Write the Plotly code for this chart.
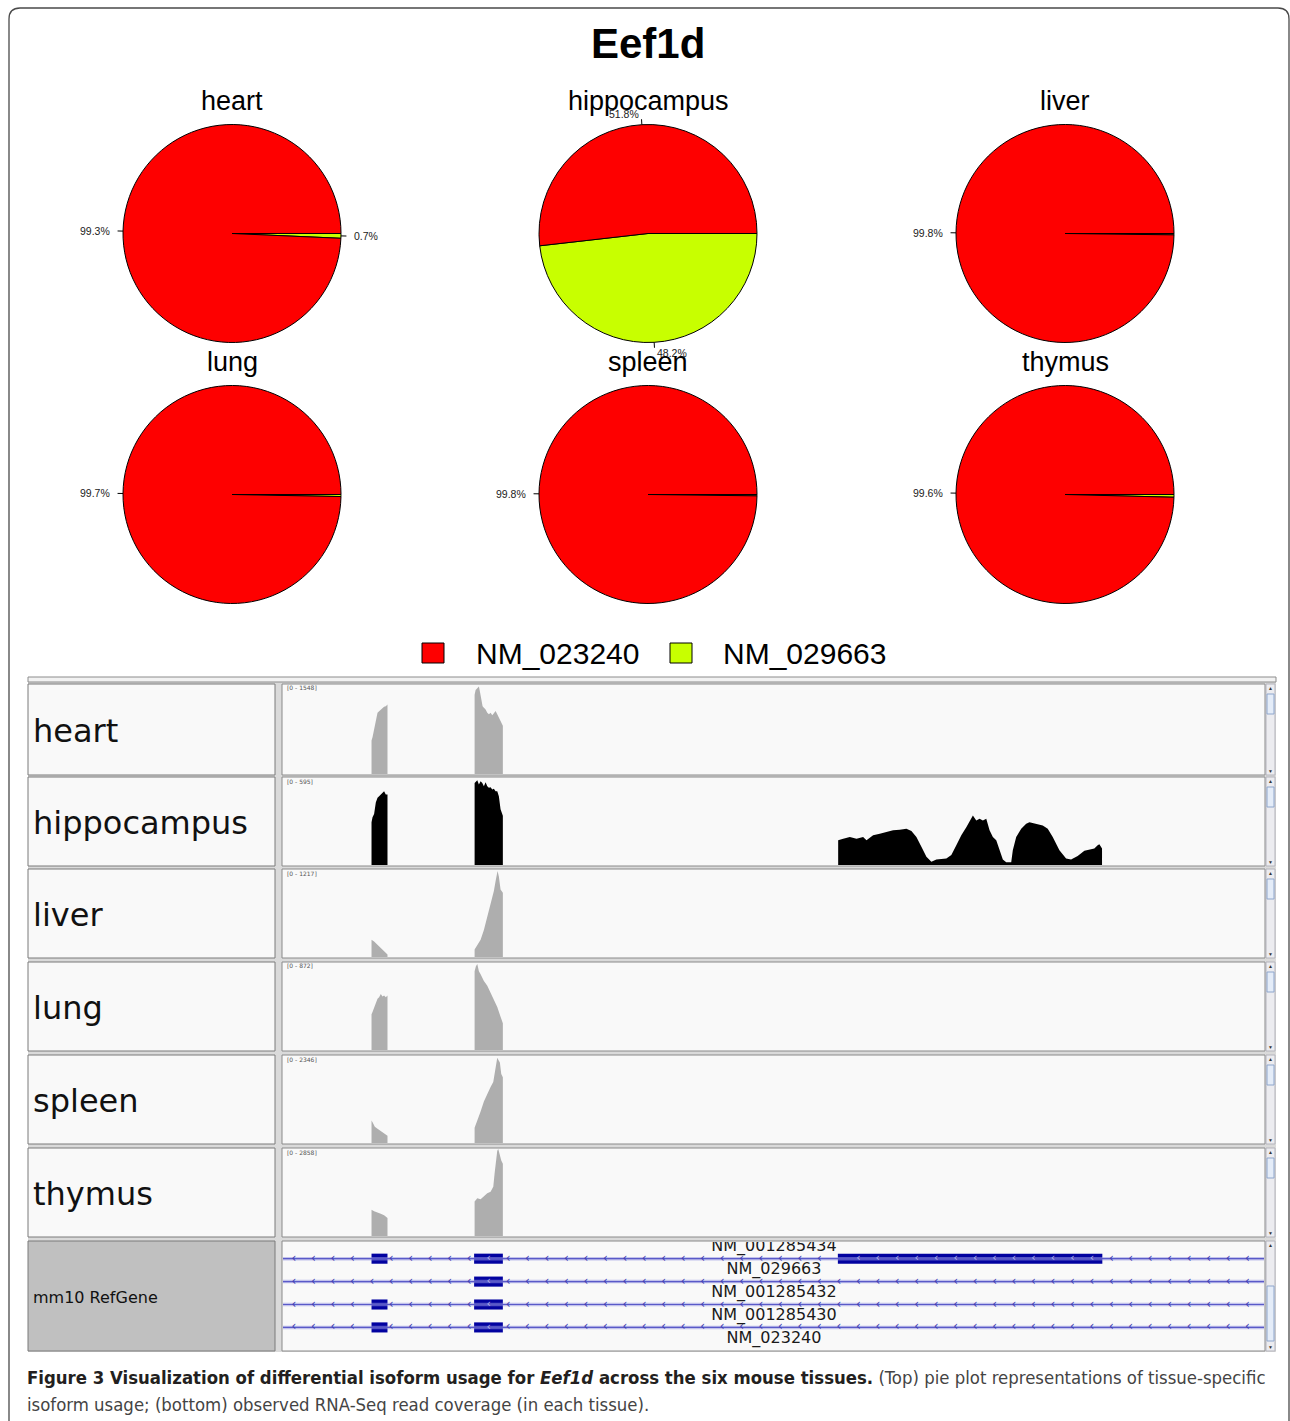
import numpy as np
import plotly.graph_objects as go

W, H = 1290, 1421


def fx(px):
    return px / W


def fy(py):
    return 1 - py / H


# ---------------------------------------------------------------- data
gene = "Eef1d"
tissues = ["heart", "hippocampus", "liver", "lung", "spleen", "thymus"]
isoforms = ["NM_023240", "NM_029663"]
iso_colors = ["#fe0000", "#c8ff00"]

usage_heart = [99.3, 0.7]
usage_hippocampus = [51.8, 48.2]
usage_liver = [99.8, 0.2]
usage_lung = [99.7, 0.3]
usage_spleen = [99.8, 0.2]
usage_thymus = [99.6, 0.4]
label_min_pct = 0.5

# coverage tracks (relative genomic position, read depth)
cov_max = [1548, 595, 1217, 872, 2346, 2858]

heart_pos = [88.7, 89.7, 91.3, 92.0, 93.0, 94.7, 96.3, 98.0, 99.7, 101.3, 103.0, 104.0, 104.7,
             192.0, 193.0, 194.7, 196.3, 197.3, 198.7, 200.0, 201.3, 203.0, 204.7, 206.3, 208.0,
             209.7, 211.3, 213.0, 214.7, 216.3, 218.0, 220.3]
heart_cov = [584, 640, 780, 890, 953, 1066, 1090, 1123, 1140, 1168, 1180, 1208, 1208,
             1378, 1463, 1491, 1520, 1435, 1293, 1180, 1151, 1123, 1066, 1038, 1066,
             1021, 1055, 1094, 1038, 981, 896, 839]

hippocampus_pos = [88.7, 89.7, 91.3, 93.0, 94.7, 96.3, 98.0, 99.7, 101.3, 103.0, 104.7,
                   192.0, 193.0, 194.7, 196.3, 198.0, 199.7, 201.3, 203.0, 204.7, 206.3, 208.0,
                   209.7, 211.3, 213.0, 214.7, 216.3, 218.0, 220.3,
                   556.3, 561.3, 568.0, 574.7, 581.3, 584.7, 591.3, 598.0, 604.7, 611.3, 618.0,
                   624.7, 629.7, 634.7, 639.7, 644.7, 649.7, 654.7, 664.7, 669.7, 674.7, 679.7,
                   684.7, 688.7, 691.3, 694.7, 698.0, 701.3, 704.7, 708.0, 711.3, 714.7, 718.0,
                   721.3, 724.7, 729.7, 731.3, 734.7, 739.7, 744.7, 748.0, 754.7, 761.3, 766.3,
                   771.3, 778.0, 784.7, 789.7, 796.3, 803.0, 808.0, 813.0, 816.3, 818.0, 820.7]
hippocampus_cov = [292, 326, 348, 427, 460, 471, 483, 494, 505, 483, 483,
                   561, 566, 579, 550, 573, 561, 539, 566, 539, 528, 532,
                   516, 521, 505, 505, 471, 382, 337,
                   169, 180, 192, 180, 192, 169, 203, 214, 225, 237, 241,
                   248, 232, 192, 124, 56, 23, 38, 45, 68, 135, 203,
                   259, 304, 338, 304, 316, 304, 316, 237, 192, 169, 101,
                   38, 18, 18, 101, 192, 248, 282, 293, 282, 270, 248,
                   192, 101, 45, 38, 61, 97, 106, 113, 135, 142, 113]

liver_pos = [88.7, 91.3, 94.7, 98.0, 101.3, 104.7,
             192.0, 194.7, 198.0, 201.3, 204.7, 207.3, 209.7, 211.3, 213.0, 214.0, 215.0,
             216.3, 218.0, 220.3]
liver_cov = [241, 218, 173, 127, 82, 36,
             104, 173, 241, 377, 559, 695, 831, 922, 1058, 1172, 1203,
             1126, 945, 899]

lung_pos = [88.7, 89.7, 91.3, 93.0, 94.7, 96.3, 98.0, 99.7, 101.3, 103.0, 104.7,
            192.0, 193.3, 194.7, 196.3, 198.0, 201.3, 204.7, 208.0, 211.3, 214.7, 218.0, 220.3]
lung_cov = [359, 382, 431, 480, 513, 529, 562, 536, 545, 529, 545,
            790, 839, 862, 790, 758, 692, 643, 578, 513, 431, 333, 268]

spleen_pos = [88.7, 90.0, 92.0, 94.7, 98.0, 101.3, 104.7,
              192.0, 194.7, 198.0, 201.3, 204.7, 208.0, 210.7, 212.0, 213.3, 214.7, 216.0,
              217.3, 218.7, 220.3]
spleen_cov = [606, 545, 439, 387, 325, 264, 193,
              413, 589, 852, 1116, 1336, 1511, 1643, 1907, 2126, 2302, 2232,
              2170, 1863, 1775]

thymus_pos = [88.7, 91.3, 94.7, 98.0, 101.3, 104.7,
              192.0, 194.7, 198.0, 201.3, 204.7, 208.0, 210.7, 212.0, 213.3, 214.7, 215.7,
              217.0, 218.7, 220.3]
thymus_cov = [863, 809, 777, 733, 679, 593,
              1132, 1240, 1208, 1294, 1402, 1456, 1618, 2049, 2481, 2804, 2858,
              2642, 2481, 2373]

track_colors = ["#aeaeae", "#000000", "#aeaeae", "#aeaeae", "#aeaeae", "#aeaeae"]

# RefGene annotation
region_start, region_end = 0, 983
transcript_labels = ["NM_001285434", "NM_029663", "NM_001285432", "NM_001285430", "NM_023240"]
transcript_label_rows = [-0.5, 0.5, 1.5, 2.5, 3.5]
transcript_rows = [0, 1, 2, 3]
exon_row = [0, 0, 0, 1, 2, 2, 3, 3]
exon_start = [88.7, 191.5, 556.0, 191.5, 88.7, 191.5, 88.7, 191.5]
exon_end = [104.7, 220.3, 821.0, 220.3, 104.7, 220.3, 104.7, 220.3]

caption_bold = "Figure 3 Visualization of differential isoform usage for "
caption_bold2 = " across the six mouse tissues."
caption_rest1 = " (Top) pie plot representations of tissue-specific"
caption_rest2 = "isoform usage; (bottom) observed RNA-Seq read coverage (in each tissue)."

usage = [usage_heart, usage_hippocampus, usage_liver, usage_lung, usage_spleen, usage_thymus]
cov_pos = [heart_pos, hippocampus_pos, liver_pos, lung_pos, spleen_pos, thymus_pos]
cov_val = [heart_cov, hippocampus_cov, liver_cov, lung_cov, spleen_cov, thymus_cov]

# ---------------------------------------------------------------- layout geometry (px)
pie_cx = [232, 648, 1065, 232, 648, 1065]
pie_cy = [233.5, 233.5, 233.5, 494.5, 494.5, 494.5]
pie_r = 109
pie_title_y = [101, 101, 101, 362, 362, 362]

name_x0, name_x1 = 28, 275
data_x0, data_x1 = 282, 1265
sb_x0, sb_x1 = 1266, 1275
track_top = [684, 777, 869, 962, 1055, 1148, 1241]
track_bot = [775, 866, 958, 1051, 1144, 1237, 1351]

SANS = "Liberation Sans, Arial, sans-serif"
DJV = "DejaVu Sans, sans-serif"

fig = go.Figure()
shapes = []
annotations = []

# outer frame
frame_path = (f"M {fx(9)},{fy(1440)} L {fx(9)},{fy(19)} Q {fx(9)},{fy(8)} {fx(20)},{fy(8)} "
              f"L {fx(1278)},{fy(8)} Q {fx(1289)},{fy(8)} {fx(1289)},{fy(19)} L {fx(1289)},{fy(1440)}")
shapes.append(dict(type="path", xref="paper", yref="paper", path=frame_path,
                   line=dict(color="#4a4a4a", width=1.3), layer="below"))

annotations.append(dict(text=f"<b>{gene}</b>", x=fx(648), y=fy(44), xref="paper", yref="paper",
                        showarrow=False, font=dict(family=SANS, size=42, color="black"),
                        xanchor="center", yanchor="middle"))

# ---------------------------------------------------------------- pies
# R-style pie: first slice starts at 3 o'clock and runs counter-clockwise.
# Equivalent in plotly: reversed order, clockwise from 3 o'clock.
for i, t in enumerate(tissues):
    cx, cy = pie_cx[i], pie_cy[i]
    fig.add_trace(go.Pie(
        values=usage[i][::-1], labels=isoforms[::-1], sort=False, direction="clockwise", rotation=90,
        marker=dict(colors=iso_colors[::-1], line=dict(color="black", width=1)),
        textinfo="none", showlegend=False, hoverinfo="label+percent",
        domain=dict(x=[fx(cx - pie_r), fx(cx + pie_r)], y=[fy(cy + pie_r), fy(cy - pie_r)])))
    annotations.append(dict(text=t, x=fx(cx), y=fy(pie_title_y[i]), xref="paper", yref="paper",
                            showarrow=False, font=dict(family=SANS, size=27, color="black"),
                            xanchor="center", yanchor="middle"))
    total = sum(usage[i])
    cum = 0.0
    for v in usage[i]:
        ang = 2 * np.pi * (cum + v / 2) / total
        cum += v
        if v < label_min_pct:
            continue
        c, s = np.cos(ang), np.sin(ang)
        shapes.append(dict(type="line", xref="paper", yref="paper",
                           x0=fx(cx + pie_r * c), y0=fy(cy - pie_r * s),
                           x1=fx(cx + 1.05 * pie_r * c), y1=fy(cy - 1.05 * pie_r * s),
                           line=dict(color="black", width=1)))
        annotations.append(dict(text=f"{v:.1f}%", x=fx(cx + 1.1 * pie_r * c), y=fy(cy - 1.1 * pie_r * s),
                                xref="paper", yref="paper", showarrow=False,
                                font=dict(family=SANS, size=10.5, color="#222"),
                                xanchor="right" if c < 0 else "left", yanchor="middle"))

# legend
leg_sq_x = [422, 670]
leg_tx_x = [474, 721]
for k, iso in enumerate(isoforms):
    shapes.append(dict(type="rect", xref="paper", yref="paper",
                       x0=fx(leg_sq_x[k]), x1=fx(leg_sq_x[k] + 22), y0=fy(663), y1=fy(643),
                       fillcolor=iso_colors[k], line=dict(color="black", width=1)))
    annotations.append(dict(text=iso, x=fx(leg_tx_x[k]), y=fy(653), xref="paper", yref="paper",
                            showarrow=False, font=dict(family=SANS, size=30, color="black"),
                            xanchor="left", yanchor="middle"))

# ---------------------------------------------------------------- IGV panel frame
shapes.append(dict(type="rect", xref="paper", yref="paper", x0=fx(28), x1=fx(1276),
                   y0=fy(1352), y1=fy(677), fillcolor="#dadada", line=dict(width=0), layer="below"))
shapes.append(dict(type="rect", xref="paper", yref="paper", x0=fx(28), x1=fx(1276),
                   y0=fy(682), y1=fy(677), fillcolor="#f2f2f2", line=dict(color="#8c8c8c", width=1),
                   layer="below"))
for k in range(7):
    top, bot = track_top[k], track_bot[k]
    shapes.append(dict(type="rect", xref="paper", yref="paper", x0=fx(name_x0), x1=fx(name_x1),
                       y0=fy(bot), y1=fy(top), fillcolor="#c0c0c0" if k == 6 else "#f9f9f9",
                       line=dict(color="#7a7a7a", width=1), layer="below"))
    shapes.append(dict(type="rect", xref="paper", yref="paper", x0=fx(data_x0), x1=fx(data_x1),
                       y0=fy(bot), y1=fy(top), fillcolor="#f9f9f9",
                       line=dict(color="#8a8a8a", width=1), layer="below"))
    shapes.append(dict(type="rect", xref="paper", yref="paper", x0=fx(sb_x0), x1=fx(sb_x1),
                       y0=fy(bot), y1=fy(top), fillcolor="#ececf0",
                       line=dict(color="#b4b4bc", width=1), layer="below"))
    th0, th1 = (top + 10, top + 30) if k < 6 else (top + 45, top + 100)
    shapes.append(dict(type="rect", xref="paper", yref="paper", x0=fx(sb_x0 + 1), x1=fx(sb_x1 - 1),
                       y0=fy(th1), y1=fy(th0), fillcolor="#e4ecf8",
                       line=dict(color="#8ea6cc", width=1), layer="below"))
    annotations.append(dict(text="▲", x=fx(1270.5), y=fy(top + 4), xref="paper", yref="paper",
                            showarrow=False, font=dict(size=5, color="#333"),
                            xanchor="center", yanchor="middle"))
    annotations.append(dict(text="▼", x=fx(1270.5), y=fy(bot - 4), xref="paper", yref="paper",
                            showarrow=False, font=dict(size=5, color="#333"),
                            xanchor="center", yanchor="middle"))
    name = tissues[k] if k < 6 else "mm10 RefGene"
    annotations.append(dict(text=name, x=fx(31), y=fy((top + bot) / 2 + 1), xref="paper", yref="paper",
                            showarrow=False,
                            font=dict(family=DJV, size=32 if k < 6 else 16, color="#111"),
                            xanchor="left", yanchor="middle"))

layout_axes = {}
# coverage tracks
for k in range(6):
    n = k + 1
    xa = "xaxis" if n == 1 else f"xaxis{n}"
    ya = "yaxis" if n == 1 else f"yaxis{n}"
    xr = "x" if n == 1 else f"x{n}"
    yr = "y" if n == 1 else f"y{n}"
    layout_axes[xa] = dict(domain=[fx(data_x0 + 1), fx(data_x1 - 1)], range=[region_start, region_end],
                           visible=False, fixedrange=True, anchor=yr)
    layout_axes[ya] = dict(domain=[fy(track_bot[k] - 1), fy(track_top[k] + 1)], range=[0, cov_max[k]],
                           visible=False, fixedrange=True, anchor=xr)
    # build filled profile, dropping to zero at the edges of each covered segment
    xs, ys = [], []
    pos, val = cov_pos[k], cov_val[k]
    for j in range(len(pos)):
        new_seg = j == 0 or pos[j] - pos[j - 1] > 40
        if new_seg:
            if j > 0:
                xs.append(pos[j - 1]); ys.append(0)
            xs.append(pos[j]); ys.append(0)
        xs.append(pos[j]); ys.append(val[j])
    xs.append(pos[-1]); ys.append(0)
    fig.add_trace(go.Scatter(x=xs, y=ys, mode="lines", fill="tozeroy",
                             fillcolor=track_colors[k], line=dict(color=track_colors[k], width=0),
                             xaxis=xr, yaxis=yr, showlegend=False, hoverinfo="skip"))
    annotations.append(dict(text=f"[0 - {cov_max[k]}]", x=fx(285), y=fy(track_top[k] + 4),
                            xref="paper", yref="paper", showarrow=False,
                            font=dict(family=DJV, size=6, color="#555"),
                            xanchor="left", yanchor="middle"))

# RefGene track
gy_top = -17 / 23.33
gy_bot = 3 + 23 / 23.33
layout_axes["xaxis7"] = dict(domain=[fx(data_x0 + 1), fx(data_x1 - 1)], range=[region_start, region_end],
                             visible=False, fixedrange=True, anchor="y7")
layout_axes["yaxis7"] = dict(domain=[fy(track_bot[6] - 1), fy(track_top[6] + 1)], range=[gy_bot, gy_top],
                             visible=False, fixedrange=True, anchor="x7")

for r in transcript_rows:
    fig.add_trace(go.Scatter(x=[region_start, region_end], y=[r, r], mode="lines",
                             line=dict(color="rgba(150,150,225,0.55)", width=3.5),
                             xaxis="x7", yaxis="y7", showlegend=False, hoverinfo="skip"))
    fig.add_trace(go.Scatter(x=[region_start, region_end], y=[r, r], mode="lines",
                             line=dict(color="#5a5ac8", width=1.2),
                             xaxis="x7", yaxis="y7", showlegend=False, hoverinfo="skip"))

chev = np.arange(11.0, region_end - 5, 19.5)
ch_x_out, ch_y_out, ch_x_in, ch_y_in = [], [], [], []
for r in transcript_rows:
    for c in chev:
        inside = any(er == r and s - 2 <= c <= e + 2 for er, s, e in zip(exon_row, exon_start, exon_end))
        if inside:
            if any(er == r and s + 4 <= c <= e - 4 for er, s, e in zip(exon_row, exon_start, exon_end)):
                ch_x_in.append(c); ch_y_in.append(r)
        else:
            ch_x_out.append(c); ch_y_out.append(r)

fig.add_trace(go.Scatter(x=ch_x_out, y=ch_y_out, mode="text", text=["‹"] * len(ch_x_out),
                         textfont=dict(family=DJV, size=12, color="#3c3cb0"), textposition="middle center",
                         xaxis="x7", yaxis="y7", showlegend=False, hoverinfo="skip", cliponaxis=True))
fig.add_trace(go.Bar(y=exon_row, x=[e - s for s, e in zip(exon_start, exon_end)], base=exon_start,
                     orientation="h", width=0.44, marker=dict(color="#0202a0", line=dict(width=0)),
                     xaxis="x7", yaxis="y7", showlegend=False, hoverinfo="skip"))
fig.add_trace(go.Scatter(x=ch_x_in, y=ch_y_in, mode="text", text=["‹"] * len(ch_x_in),
                         textfont=dict(family=DJV, size=11, color="#b4b4ea"), textposition="middle center",
                         xaxis="x7", yaxis="y7", showlegend=False, hoverinfo="skip", cliponaxis=True))
fig.add_trace(go.Scatter(x=[492] * len(transcript_labels), y=transcript_label_rows, mode="text",
                         text=transcript_labels, textfont=dict(family=DJV, size=16, color="#1a1a1a"),
                         textposition="middle center", xaxis="x7", yaxis="y7", showlegend=False,
                         hoverinfo="skip", cliponaxis=True))

# ---------------------------------------------------------------- caption
CAP = "DejaVu Sans Condensed, sans-serif"
annotations.append(dict(
    text=(f"<b>{caption_bold}<i>{gene}</i>{caption_bold2}</b>"
          f"<span style='color:#444444'>{caption_rest1}</span>"),
    x=fx(25), y=fy(1377), xref="paper", yref="paper", showarrow=False,
    font=dict(family=CAP, size=18.4, color="#231f20"), xanchor="left", yanchor="middle"))
annotations.append(dict(
    text=f"<span style='color:#444444'>{caption_rest2}</span>",
    x=fx(25), y=fy(1404), xref="paper", yref="paper", showarrow=False,
    font=dict(family=CAP, size=18.4, color="#444444"), xanchor="left", yanchor="middle"))

fig.update_layout(width=W, height=H, margin=dict(l=0, r=0, t=0, b=0),
                  paper_bgcolor="white", plot_bgcolor="rgba(0,0,0,0)",
                  showlegend=False, barmode="overlay",
                  shapes=shapes, annotations=annotations, **layout_axes)

fig.write_html("out.html", config={"displayModeBar": False},
               post_script="document.body.style.margin='0px';")
